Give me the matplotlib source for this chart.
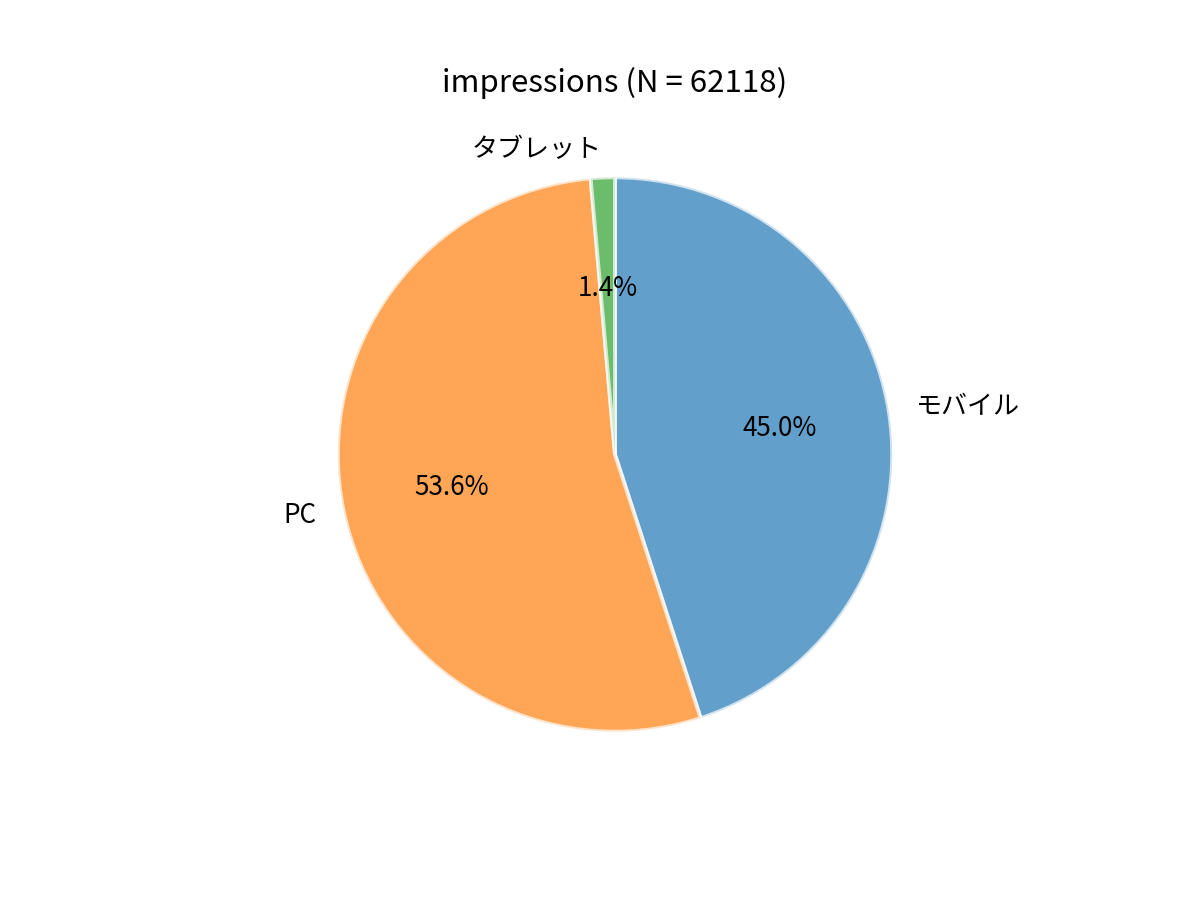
import matplotlib
matplotlib.use("Agg")
import matplotlib.pyplot as plt

plt.rcParams['font.family'] = ['Noto Sans CJK JP', 'DejaVu Sans']

labels = ['モバイル', 'PC', 'タブレット']
counts = [27953, 33295, 870]
colors = ['tab:blue', 'tab:orange', 'tab:green']

total = sum(counts)

fig, ax = plt.subplots(figsize=(6.4, 4.8), dpi=187.5)
ax.pie(counts, labels=labels, colors=colors, autopct='%1.1f%%',
       startangle=90, counterclock=False,
       wedgeprops={'alpha': 0.7, 'edgecolor': 'white', 'linewidth': 1.5})
ax.set_title(f'impressions (N = {total})')
fig.savefig('out.png')
